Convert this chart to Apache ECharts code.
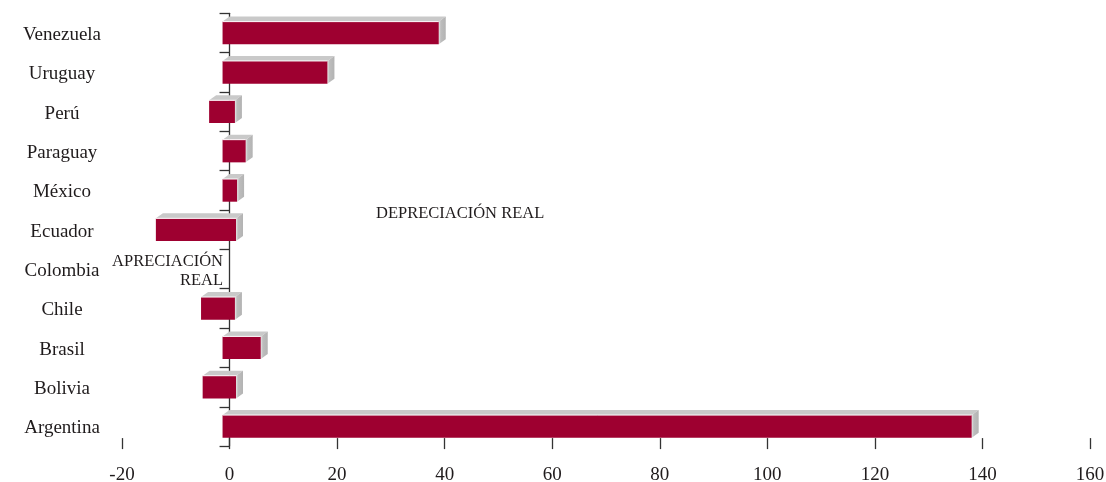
<!DOCTYPE html>
<html>
<head>
<meta charset="utf-8">
<script src="https://cdn.jsdelivr.net/npm/echarts@6/dist/echarts.min.js"></script>
<style>
html,body{margin:0;padding:0;background:#fff;}
#chart{width:1106px;height:482px;}
</style>
</head>
<body>
<div id="chart"></div>
<script>
// Categories, bottom to top
const categories = ['Argentina','Bolivia','Brasil','Chile','Colombia','Ecuador','México','Paraguay','Perú','Uruguay','Venezuela'];
// Bar extent (start and end value of each bar)
const barStart = [0, -3.7, 0, -4.0, null, -12.4, 0, 0, -2.5, 0, 0];
const barEnd   = [139.3, 2.5, 7.1, 2.3, null, 2.5, 2.7, 4.3, 2.3, 19.5, 40.2];
// Value axis
const xMin = -20, xMax = 160, xStep = 20;
// Annotations
const labelDepreciation = 'DEPRECIACIÓN REAL';
const labelAppreciation = ['APRECIACIÓN', 'REAL'];

const FONT = '"Liberation Serif", "Times New Roman", serif';
const TEXT = '#1f1b1c';

const seriesData = [];
categories.forEach((c, i) => {
  if (barStart[i] !== null && barEnd[i] !== null) seriesData.push([barStart[i], barEnd[i], i]);
});

const chart = echarts.init(document.getElementById('chart'), null, {renderer: 'canvas'});

const DX = 7, DY = 5;
function renderItem(params, api) {
  const cat = api.value(2);
  const s = api.coord([api.value(0), cat]);
  const e = api.coord([api.value(1), cat]);
  const band = api.size([0, 1])[1];
  const h = band * 0.577;
  const cy = s[1];
  const top = cy - h / 2, bot = cy + h / 2;
  const x0 = s[0] - DX, x1 = e[0] - DX;
  return {
    type: 'group',
    children: [
      {type: 'polygon', shape: {points: [[x0, top], [x1, top], [x1 + DX, top - DY], [x0 + DX, top - DY]]},
       style: {fill: '#c9c9c9'}},
      {type: 'polygon', shape: {points: [[x1, top], [x1 + DX, top - DY], [x1 + DX, bot - DY], [x1, bot]]},
       style: {fill: new echarts.graphic.LinearGradient(0, 0, 1, 0, [
         {offset: 0, color: '#e6e6e6'}, {offset: 0.3, color: '#bdbdbd'}, {offset: 1, color: '#b3b3b3'}])}},
      {type: 'rect', shape: {x: x0, y: top, width: x1 - x0, height: h},
       style: {fill: '#9e0030'}},
      {type: 'line', shape: {x1: x0, y1: top, x2: x1, y2: top},
       style: {stroke: '#ffffff', lineWidth: 1}}
    ]
  };
}

const option = {
  backgroundColor: '#ffffff',
  animation: false,
  grid: {left: 122, right: 16, top: 13.3, bottom: 35.9, containLabel: false, outerBoundsMode: 'none'},
  xAxis: {
    type: 'value', min: xMin, max: xMax, interval: xStep,
    offset: -8,
    axisLine: {show: false},
    axisTick: {show: true, length: 11, lineStyle: {color: '#333', width: 1.3}},
    splitLine: {show: false},
    axisLabel: {fontFamily: FONT, fontSize: 19, color: TEXT, margin: 27}
  },
  yAxis: [{
    type: 'category', data: categories,
    axisLine: {show: true, onZero: true, lineStyle: {color: '#333', width: 1.3}},
    axisTick: {show: true, length: 10, lineStyle: {color: '#333', width: 1.3}},
    splitLine: {show: false},
    axisLabel: {show: false}
  }, {
    type: 'category', data: categories, position: 'left',
    axisLine: {show: false, onZero: false},
    axisTick: {show: false},
    splitLine: {show: false},
    axisLabel: {
      show: true, align: 'center', margin: 60, hideOverlap: false,
      formatter: (v) => '{c|' + v + '}',
      rich: {c: {fontFamily: FONT, fontSize: 19, color: TEXT, padding: [4, 0, 0, 0]}}
    }
  }],
  series: [{
    type: 'custom',
    renderItem: renderItem,
    encode: {x: [0, 1], y: 2},
    yAxisIndex: 0,
    data: seriesData,
    z: 3
  }],
  graphic: [
    {type: 'text', x: 376, y: 214, style: {text: labelDepreciation, font: '16.5px ' + FONT, fill: TEXT, align: 'left', verticalAlign: 'middle'}},
    {type: 'text', x: 223, y: 262, style: {text: labelAppreciation[0], font: '16.5px ' + FONT, fill: TEXT, align: 'right', verticalAlign: 'middle'}},
    {type: 'text', x: 223, y: 281, style: {text: labelAppreciation[1], font: '16.5px ' + FONT, fill: TEXT, align: 'right', verticalAlign: 'middle'}}
  ]
};
chart.setOption(option);
</script>
</body>
</html>
